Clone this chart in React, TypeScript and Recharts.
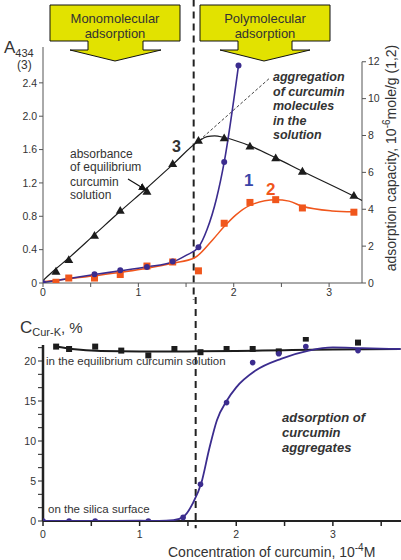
import React from 'react';
import { ComposedChart, Line, XAxis, YAxis, ReferenceLine } from 'recharts';

const FONT = '"Liberation Sans", Arial, Helvetica, sans-serif';

// ---------- top chart data ----------
const concX = [0.136, 0.27, 0.54, 0.81, 1.09, 1.36, 1.63, 1.9, 2.17, 2.44, 2.72, 3.26];
const absA = [0.14, 0.28, 0.57, 0.87, 1.1, 1.43, 1.71, 1.74, 1.64, 1.5, 1.34, 1.05];
const absFitX = [0, 0.136, 0.27, 0.54, 0.81, 1.09, 1.36, 1.63, 1.72, 1.8, 1.9, 2.17, 2.44, 2.72, 3.26, 3.345];
const absFitA = [0.03, 0.17, 0.3, 0.58, 0.86, 1.14, 1.42, 1.7, 1.755, 1.765, 1.745, 1.645, 1.5, 1.34, 1.04, 0.99];
const aggX = [1.6, 2.37];
const aggA = [1.67, 2.45];

const cap1X = [0, 0.54, 0.81, 1.09, 1.36, 1.63, 1.9, 2.05];
const cap1V = [0, 0.48, 0.69, 0.87, 1.16, 1.94, 6.56, 11.8];
const cap1FitX = [0, 0.54, 0.81, 1.09, 1.36, 1.5, 1.63, 1.72, 1.82, 1.9, 2.05];
const cap1FitV = [0.02, 0.46, 0.66, 0.88, 1.14, 1.5, 1.94, 2.9, 4.6, 6.56, 11.8];

const cap2V = [0.04, 0.27, 0.27, 0.46, 0.92, 1.14, 0.66, 3.24, 4.37, 4.52, 4.07, 3.84];
const cap2FitX = [0, 0.54, 1.09, 1.36, 1.59, 1.78, 1.9, 2.02, 2.17, 2.44, 2.58, 2.72, 3.03, 3.26];
const cap2FitV = [0.07, 0.39, 0.8, 1.07, 1.37, 2.35, 3.06, 3.68, 4.21, 4.52, 4.44, 4.16, 3.91, 3.86];

const topXTicks = [0, 0.5, 1, 1.5, 2, 2.5, 3];
const leftTicks = [0, 0.4, 0.8, 1.2, 1.6, 2.0, 2.4];
const rightTicks = [0, 2, 4, 6, 8, 10, 12];
const boundaryX = 1.58;

// ---------- bottom chart data ----------
const solC = [21.8, 21.5, 21.8, 21.3, 20.7, 21.5, 21.1, 21.5, 21.5, 21.2, 22.8, 22.3];
const solFitX = [0.136, 0.3, 0.6, 1.0, 1.5, 2.0, 2.5, 3.0, 3.7];
const solFitC = [21.8, 21.5, 21.25, 21.2, 21.2, 21.25, 21.35, 21.45, 21.5];
const surfX = [0, 0.27, 0.54, 1.09, 1.45, 1.63, 1.9, 2.17, 2.44, 2.72, 3.26];
const surfC = [0, 0, 0, 0, 0.45, 4.6, 14.8, 19.8, 20.9, 21.8, 21.3];
const surfFitX = [0, 0.5, 1.0, 1.2, 1.35, 1.46, 1.55, 1.64, 1.72, 1.8, 1.9, 2.0, 2.2, 2.47, 2.75, 3.0, 3.3, 3.7];
const surfFitC = [0, 0, 0.05, 0, 0.1, 0.6, 2.2, 4.8, 9, 12.6, 15, 16.7, 18.8, 20.3, 21.3, 21.7, 21.6, 21.5];
const botXTicks = [0, 0.5, 1, 1.5, 2, 2.5, 3, 3.5];
const botXLabels = [0, 1, 2, 3];
const botYTicks = [0, 1.667, 3.333, 5, 6.667, 8.333, 10, 11.667, 13.333, 15, 16.667, 18.333, 20, 21.667];
const BOT_X_MAX = 3.705;

const pts = (xs: number[], ys: number[]) => xs.map((x, i) => ({ x, y: ys[i] }));

const BLACK = '#1c1c1c';
const BLUE = '#3b2c8e';
const ORANGE = '#f0561c';
const TXT = '#333';

const triDot = (color: string, s: number) => (p: any) => {
  const { cx, cy, index } = p;
  if (cx == null || cy == null) return <g key={`t${index}`} />;
  return <path key={`t${index}`} d={`M${cx},${cy - s}L${cx + s},${cy + s * 0.75}L${cx - s},${cy + s * 0.75}Z`} fill={color} />;
};
const sqDot = (color: string, s: number) => (p: any) => {
  const { cx, cy, index } = p;
  if (cx == null || cy == null) return <g key={`s${index}`} />;
  return <rect key={`s${index}`} x={cx - s} y={cy - s} width={2 * s} height={2 * s} fill={color} />;
};
const circDot = (color: string, r: number) => (p: any) => {
  const { cx, cy, index } = p;
  if (cx == null || cy == null) return <g key={`c${index}`} />;
  return <circle key={`c${index}`} cx={cx} cy={cy} r={r} fill={color} />;
};

const intLabel = (v: number) => (Math.abs(v - Math.round(v)) < 1e-6 ? String(Math.round(v)) : '');
const fiveLabel = (v: number) => (Math.abs(v / 5 - Math.round(v / 5)) < 1e-6 ? String(Math.round(v)) : '');
const tickStyle = { fontSize: 10.5, fill: TXT, fontFamily: FONT };

const BottomTick = (p: any) => {
  const x = Number(p.x);
  const y = Number(p.y);
  return (
    <g>
      <line x1={x} y1={y - 8} x2={x} y2={y - 3} stroke="#222" strokeWidth={1.5} />
    </g>
  );
};

function YellowArrow({ x0, x1, s0, s1, h0, h1, tipX }: any) {
  const d = `M${x0},5H${x1}V41H${s1}V50H${h1}L${tipX},61L${h0},50H${s0}V41H${x0}Z`;
  return <path d={d} fill="#e2e200" stroke="#111" strokeWidth={1} />;
}

// bottom plot spans 43..401 px for domain [0, BOT_X_MAX]
const botLabelX = (v: number) => 43 + (v / BOT_X_MAX) * 358;

export default function App() {
  return (
    <div style={{ position: 'absolute', left: 0, top: 0, width: 401, height: 560, background: '#fff', fontFamily: FONT }}>
      <div style={{ position: 'absolute', left: 0, top: 0 }}>
        <ComposedChart width={401} height={560} margin={{ top: 337, right: 0, bottom: 19, left: 8 }}>
          <XAxis
            dataKey="x"
            type="number"
            domain={[0, BOT_X_MAX]}
            allowDataOverflow
            ticks={botXTicks}
            interval={0}
            tick={<BottomTick />}
            tickLine={false}
            axisLine={false}
            height={20}
            tickSize={6}
          />
          <YAxis
            type="number"
            domain={[0, 23]}
            allowDataOverflow
            ticks={botYTicks}
            interval={0}
            tickFormatter={fiveLabel}
            tick={tickStyle}
            stroke="#222"
            axisLine={false}
            width={35}
            tickSize={5}
          />
          <ReferenceLine segment={[{ x: 0, y: 0 }, { x: 0, y: 22 }]} stroke="#222" strokeWidth={2.5} ifOverflow="visible" />
          <ReferenceLine segment={[{ x: 0, y: 0 }, { x: BOT_X_MAX, y: 0 }]} stroke="#222" strokeWidth={2.2} ifOverflow="visible" />
          <ReferenceLine
            segment={[{ x: boundaryX, y: 28 }, { x: boundaryX, y: -0.9 }]}
            stroke="#222"
            strokeWidth={2}
            strokeDasharray="7 5"
            ifOverflow="visible"
          />
          <Line data={pts(solFitX, solFitC)} dataKey="y" type="monotone" stroke={BLACK} strokeWidth={2} dot={false} activeDot={false} isAnimationActive={false} />
          <Line data={pts(concX, solC)} dataKey="y" stroke="none" dot={sqDot(BLACK, 3)} activeDot={false} isAnimationActive={false} />
          <Line data={pts(surfFitX, surfFitC)} dataKey="y" type="monotone" stroke={BLUE} strokeWidth={1.8} dot={false} activeDot={false} isAnimationActive={false} />
          <Line data={pts(surfX, surfC)} dataKey="y" stroke="none" dot={circDot(BLUE, 2.8)} activeDot={false} isAnimationActive={false} />
        </ComposedChart>
      </div>
      <div style={{ position: 'absolute', left: 0, top: 0 }}>
        <ComposedChart width={401} height={300} margin={{ top: 47, right: 9, bottom: 0, left: 8 }}>
          <XAxis
            dataKey="x"
            type="number"
            domain={[0, 3.345]}
            allowDataOverflow
            ticks={topXTicks}
            interval={0}
            tickFormatter={intLabel}
            tick={tickStyle}
            stroke="#555"
            height={17}
            tickSize={4}
          />
          <YAxis
            yAxisId="left"
            type="number"
            domain={[0, 2.83]}
            allowDataOverflow
            ticks={leftTicks}
            interval={0}
            tickFormatter={(v: number) => (v === 0 ? '0' : v.toFixed(1))}
            tick={tickStyle}
            stroke="#555"
            width={35}
            tickSize={4}
          />
          <YAxis
            yAxisId="right"
            orientation="right"
            type="number"
            domain={[0, 12.8]}
            allowDataOverflow
            ticks={rightTicks}
            interval={0}
            tick={tickStyle}
            stroke="#555"
            axisLine={false}
            width={30}
            tickSize={4}
          />
          <ReferenceLine
            yAxisId="right"
            segment={[{ x: 3.345, y: 0 }, { x: 3.345, y: 12 }]}
            stroke="#555"
            ifOverflow="visible"
          />
          <ReferenceLine
            yAxisId="left"
            segment={[{ x: boundaryX, y: 3.4 }, { x: boundaryX, y: -0.3 }]}
            stroke="#222"
            strokeWidth={2}
            strokeDasharray="7 5"
            ifOverflow="visible"
          />
          <Line data={pts(aggX, aggA)} dataKey="y" yAxisId="left" type="linear" stroke="#444" strokeWidth={1} strokeDasharray="3 2" dot={false} activeDot={false} isAnimationActive={false} />
          <Line data={pts(absFitX, absFitA)} dataKey="y" yAxisId="left" type="monotone" stroke={BLACK} strokeWidth={1.2} dot={false} activeDot={false} isAnimationActive={false} />
          <Line data={pts(concX, absA)} dataKey="y" yAxisId="left" stroke="none" dot={triDot(BLACK, 4.5)} activeDot={false} isAnimationActive={false} />
          <Line data={pts(cap2FitX, cap2FitV)} dataKey="y" yAxisId="right" type="monotone" stroke={ORANGE} strokeWidth={1.5} dot={false} activeDot={false} isAnimationActive={false} />
          <Line data={pts(concX, cap2V)} dataKey="y" yAxisId="right" stroke="none" dot={sqDot(ORANGE, 3.5)} activeDot={false} isAnimationActive={false} />
          <Line data={pts(cap1FitX, cap1FitV)} dataKey="y" yAxisId="right" type="monotone" stroke={BLUE} strokeWidth={1.6} dot={false} activeDot={false} isAnimationActive={false} />
          <Line data={pts(cap1X, cap1V)} dataKey="y" yAxisId="right" stroke="none" dot={circDot(BLUE, 3)} activeDot={false} isAnimationActive={false} />
        </ComposedChart>
      </div>
      <svg width={401} height={560} style={{ position: 'absolute', left: 0, top: 0, pointerEvents: 'none' }} fontFamily={FONT}>
        <defs>
          <marker id="ah" markerWidth="8" markerHeight="8" refX="7" refY="4" orient="auto" markerUnits="userSpaceOnUse">
            <path d="M0,0L8,4L0,8Z" fill="#111" />
          </marker>
        </defs>
        <YellowArrow x0={50} x1={180} s0={88} s1={143} h0={70} h1={161} tipX={115} />
        <YellowArrow x0={200} x1={330} s0={238} s1={292} h0={220} h1={310} tipX={264} />
        <text x={115} y={23} textAnchor="middle" fontSize={13} fill={TXT}>Monomolecular</text>
        <text x={115} y={38} textAnchor="middle" fontSize={13} fill={TXT}>adsorption</text>
        <text x={265} y={23} textAnchor="middle" fontSize={13} fill={TXT}>Polymolecular</text>
        <text x={265} y={38} textAnchor="middle" fontSize={13} fill={TXT}>adsorption</text>

        <text x={4} y={53} fontSize={17} fill={TXT}>A<tspan fontSize={11} dy={4}>434</tspan></text>
        <text x={17} y={69} fontSize={12} fill={TXT}>(3)</text>

        <text x={172} y={152} fontSize={16} fontWeight="bold" fill={TXT}>3</text>
        <text x={244} y={186} fontSize={17} fontWeight="bold" fill="#3a45a8">1</text>
        <text x={266} y={195} fontSize={17} fontWeight="bold" fill={ORANGE}>2</text>

        <g fontSize={12} fill={TXT}>
          <text x={70} y={158}>absorbance</text>
          <text x={70} y={171}>of equilibrium</text>
          <text x={70} y={186}>curcumin</text>
          <text x={70} y={199}>solution</text>
        </g>
        <line x1={128} y1={179} x2={146} y2={190} stroke="#111" strokeWidth={1.2} markerEnd="url(#ah)" />

        <g fontSize={12.5} fontWeight="bold" fontStyle="italic" fill={TXT}>
          <text x={273} y={81}>aggregation</text>
          <text x={273} y={96}>of curcumin</text>
          <text x={273} y={110}>molecules</text>
          <text x={273} y={125}>in the</text>
          <text x={273} y={139}>solution</text>
        </g>

        <text transform="translate(396,158) rotate(-90)" textAnchor="middle" fontSize={14} fill={TXT}>
          adsorption capacity, 10<tspan fontSize={10} dy={-6}>-6</tspan><tspan dy={6}>mole/g (1,2)</tspan>
        </text>

        <text x={20} y={333} fontSize={17} fill={TXT}>C<tspan fontSize={11} dy={3}>Cur-K</tspan><tspan fontSize={15} dy={-3}>, %</tspan></text>
        <text x={46} y={365} fontSize={11.5} fill={TXT}>in the equilibrium curcumin solution</text>
        <text x={48} y={513} fontSize={11.5} fill={TXT}>on the silica surface</text>
        <g fontSize={13} fontWeight="bold" fontStyle="italic" fill={TXT}>
          <text x={282} y={422}>adsorption of</text>
          <text x={282} y={437}>curcumin</text>
          <text x={282} y={452}>aggregates</text>
        </g>
        <g fontSize={10.5} fill={TXT} textAnchor="middle">
          {botXLabels.map((v) => (
            <text key={`bl${v}`} x={botLabelX(v)} y={538}>{String(v)}</text>
          ))}
        </g>
        <text x={168} y={557} fontSize={14} fill={TXT}>
          Concentration of curcumin, 10<tspan fontSize={10} dy={-6}>-4</tspan><tspan dy={6}>M</tspan>
        </text>
      </svg>
    </div>
  );
}
